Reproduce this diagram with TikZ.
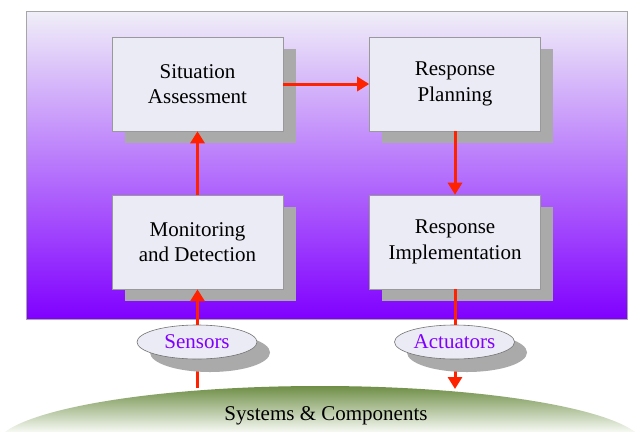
\documentclass[tikz,border=0pt]{standalone}
\usepackage{fontspec}
\setmainfont{Liberation Serif}
\newfontfamily\diagfont{Liberation Serif}
\usetikzlibrary{shapes.geometric,arrows.meta}
\definecolor{boxfill}{HTML}{EBEBF5}
\definecolor{shadowgray}{HTML}{AAAAAA}
\definecolor{arrowred}{HTML}{FF2200}
\definecolor{labelpurple}{HTML}{8000FF}
\definecolor{bgtop}{HTML}{F0EFF8}
\definecolor{bgbottom}{HTML}{8000FF}
\definecolor{groundtop}{HTML}{6E8E46}
\definecolor{groundbottom}{HTML}{F4F7F0}
\tikzset{
  stagebox/.style={draw=gray!80, line width=0.6pt, fill=boxfill, minimum width=171pt, minimum height=94pt,
    align=center, font=\diagfont\fontsize{21}{25.5}\selectfont, inner sep=0pt},
  boxshadow/.style={fill=shadowgray, draw=none},
  iobox/.style={ellipse, draw=gray!90!black, line width=0.6pt, fill=boxfill, minimum width=120pt, minimum height=34pt,
    inner sep=0pt, font=\diagfont\fontsize{21}{25}\selectfont, text=labelpurple},
  flow/.style={draw=arrowred, line width=3pt},
  flowhead/.style={flow, -{Triangle[length=12pt,width=14pt]}}
}
\begin{document}
\begin{tikzpicture}[x=1pt,y=-1pt]
\useasboundingbox (0,0) rectangle (639,431);
\fill[white] (0,0) rectangle (639,431);
% background panel
\shade[top color=bgtop, bottom color=bgbottom, draw=gray!70] (26,11) rectangle (627,319);
% shadows of boxes
\fill[boxshadow] (125,49) rectangle (296,143);
\fill[boxshadow] (382,49) rectangle (553,143);
\fill[boxshadow] (125,207) rectangle (296,301);
\fill[boxshadow] (382,207) rectangle (553,301);
% boxes
\node[stagebox] (sa) at (197.5,84) {Situation\\Assessment};
\node[stagebox] (rp) at (455,84) {Response\\Planning};
\node[stagebox] (md) at (197.5,242) {Monitoring\\and Detection};
\node[stagebox] (ri) at (455,242) {Response\\Implementation};
% ground
\begin{scope}
\clip (320,447) ellipse [x radius=325, y radius=61];
\shade[top color=groundtop, bottom color=groundbottom] (0,386) rectangle (639,431);
\end{scope}
\coordinate (gs) at (197.5,388);
\coordinate (ga) at (455,389);
\node[font=\diagfont\fontsize{21}{25}\selectfont] (sys) at (326,416) {Systems \& Components};
% lines under the ellipse shadows
\draw[flow] (gs) -- (197.5,345);
\draw[flowhead] (455,345) -- (ga);
% ellipse shadows
\fill[shadowgray] (210,352.5) ellipse [x radius=60, y radius=19.5];
\fill[shadowgray] (467,352.5) ellipse [x radius=60, y radius=19.5];
% ellipses
\node[iobox] (sen) at (197,342) {Sensors};
\node[iobox] (act) at (454.5,342) {Actuators};
% connectors
\draw[flowhead] (sa.east) -- (rp.west);
\draw[flowhead] (md.north) -- (sa.south);
\draw[flowhead] (rp.south) -- (ri.north);
\draw[flowhead] (sen.north -| md.south) -- (md.south);
\draw[flow] (ri.south) -- (act.north -| ri.south);
\end{tikzpicture}
\end{document}
